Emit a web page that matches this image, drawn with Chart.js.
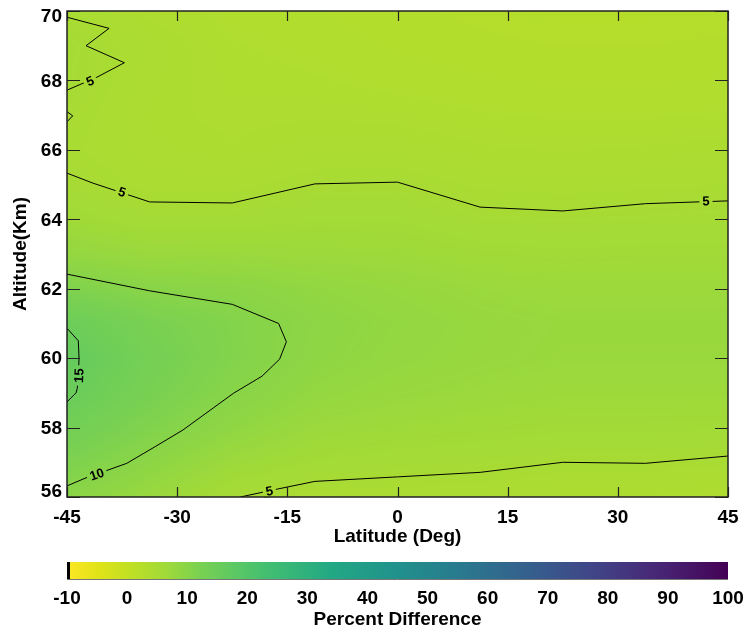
<!DOCTYPE html>
<html>
<head>
<meta charset="utf-8">
<script src="https://cdn.jsdelivr.net/npm/chart.js@4.4.1/dist/chart.umd.min.js"></script>
<style>
  html, body { margin: 0; padding: 0; background: #fff; }
</style>
</head>
<body>
<canvas id="chart" width="748" height="633"></canvas>
<script>
// grid of the field (lat columns x altitude rows)
const latitudes = [-45, -33.75, -22.5, -11.25, 0, 11.25, 22.5, 33.75, 45];
const altitudes = [56, 57, 58, 59, 60, 61, 62, 63, 64, 65, 66, 67, 68, 69, 70];
const pctDiff = [
  [9.6, 7.6, 5.2, 4.4, 4.4, 4.3, 4.0, 3.9, 3.6],    // 56
  [11.6, 9.3, 7.0, 5.9, 5.5, 5.3, 5.0, 5.0, 4.8],   // 57
  [13.6, 11.0, 8.8, 7.2, 6.7, 6.4, 6.1, 6.1, 6.0],  // 58
  [15.3, 12.3, 10.0, 8.3, 7.6, 7.2, 6.9, 6.9, 6.9], // 59
  [16.3, 12.9, 10.8, 9.0, 8.2, 7.7, 7.4, 7.4, 7.4], // 60
  [14.8, 12.2, 10.7, 9.2, 8.4, 7.8, 7.5, 7.5, 7.5], // 61
  [11.2, 9.9, 9.5, 8.5, 7.9, 7.3, 7.0, 7.0, 7.0],   // 62
  [8.3, 7.4, 7.3, 7.0, 6.8, 6.3, 6.1, 6.2, 6.2],    // 63
  [6.4, 5.5, 5.5, 5.9, 5.9, 5.3, 5.2, 5.3, 5.4],    // 64
  [5.2, 4.5, 4.5, 5.0, 5.05, 4.6, 4.5, 4.6, 4.7],   // 65
  [4.8, 4.2, 4.0, 4.3, 4.3, 4.0, 3.9, 4.0, 4.1],    // 66
  [5.0, 4.1, 3.8, 3.9, 3.8, 3.6, 3.5, 3.5, 3.6],    // 67
  [5.3, 4.2, 3.7, 3.6, 3.4, 3.2, 3.1, 3.1, 3.2],    // 68
  [5.4, 4.3, 3.6, 3.4, 3.1, 2.9, 2.8, 2.8, 2.9],    // 69
  [4.8, 3.8, 3.4, 3.2, 2.9, 2.7, 2.5, 2.5, 2.6]     // 70
];

// contour lines [lat, alt]
const contour5Top = [[-45, 65.33], [-41.45, 65.04], [-33.75, 64.5], [-22.5, 64.47], [-11.25, 65.02],
  [0, 65.07], [11.25, 64.35], [22.5, 64.24], [33.75, 64.45], [45, 64.53]];
const contour5Zig = [[-45, 69.82], [-39.27, 69.5], [-42.41, 69.0], [-37.19, 68.51], [-40.95, 68.09],
  [-43.36, 67.87], [-45, 67.72]];
const contour5Wedge = [[-45, 67.1], [-44.22, 66.98], [-45, 66.81]];
const contour5Bottom = [[-21.41, 56.0], [-16.32, 56.23], [-11.25, 56.45], [0, 56.58], [11.25, 56.71],
  [22.5, 57.0], [33.75, 56.97], [45, 57.18]];
const contour10 = [[-45, 62.42], [-33.75, 61.94], [-22.5, 61.55], [-16.19, 61.0], [-15.13, 60.47],
  [-16.05, 59.97], [-18.45, 59.48], [-22.32, 58.99], [-29.22, 57.93], [-33.0, 57.45],
  [-36.86, 56.97], [-42.55, 56.54], [-45, 56.32]];
const contour15 = [[-45, 60.86], [-43.46, 60.5], [-43.36, 60.0], [-43.45, 59.5], [-43.6, 59.13],
  [-43.77, 59.0], [-45, 58.74]];

const contourLabels = [
  { text: '5', lat: -37.5, alt: 64.79, line: contour5Top },
  { text: '5', lat: 42.0, alt: 64.53, line: contour5Top },
  { text: '5', lat: -41.86, alt: 67.99, line: contour5Zig },
  { text: '5', lat: -17.45, alt: 56.18, line: contour5Bottom },
  { text: '10', lat: -40.95, alt: 56.66, line: contour10 },
  { text: '15', lat: -43.4, alt: 59.5, line: contour15 }
];

const latTicks = [-45, -30, -15, 0, 15, 30, 45];
const altTicks = [56, 58, 60, 62, 64, 66, 68, 70];
const cbTicks = [-10, 0, 10, 20, 30, 40, 50, 60, 70, 80, 90, 100];

const viridisStops = [
  [0.0, '#440154'], [0.1, '#482475'], [0.2, '#414487'], [0.3, '#355f8d'], [0.4, '#2a788e'],
  [0.5, '#21918c'], [0.6, '#22a884'], [0.7, '#44bf70'], [0.75, '#5ec962'], [0.8, '#7ad151'],
  [0.85, '#a0da39'], [0.9, '#bddf26'], [0.95, '#dfe318'], [1.0, '#fde725']
];
const stopsRgb = viridisStops.map(s => [s[0], parseInt(s[1].slice(1, 3), 16), parseInt(s[1].slice(3, 5), 16), parseInt(s[1].slice(5, 7), 16)]);

function colorFor(v) {
  // reversed viridis: -10 yellow, 100 purple
  let t = 1 - (v - cbTicks[0]) / (cbTicks[cbTicks.length - 1] - cbTicks[0]);
  t = Math.max(0, Math.min(1, t));
  for (let k = 0; k < stopsRgb.length - 1; k++) {
    const a = stopsRgb[k], b = stopsRgb[k + 1];
    if (t <= b[0]) {
      const f = (t - a[0]) / (b[0] - a[0]);
      return [a[1] + (b[1] - a[1]) * f, a[2] + (b[2] - a[2]) * f, a[3] + (b[3] - a[3]) * f];
    }
  }
  const l = stopsRgb[stopsRgb.length - 1];
  return [l[1], l[2], l[3]];
}

function findCell(arr, v) {
  let i = 0;
  while (i < arr.length - 2 && v > arr[i + 1]) i++;
  const f = Math.max(0, Math.min(1, (v - arr[i]) / (arr[i + 1] - arr[i])));
  return [i, f];
}

function fieldAt(lat, alt) {
  const [i, fx] = findCell(latitudes, lat);
  const [j, fy] = findCell(altitudes, alt);
  const a = pctDiff[j][i], b = pctDiff[j][i + 1], c = pctDiff[j + 1][i], d = pctDiff[j + 1][i + 1];
  return (a * (1 - fx) + b * fx) * (1 - fy) + (c * (1 - fx) + d * fx) * fy;
}

const FONT = '"Liberation Sans", Arial, sans-serif';

const fieldPlugin = {
  id: 'fieldPlugin',
  beforeDatasetsDraw(chart) {
    const { ctx, chartArea: a, scales: { x, y } } = chart;
    const w = Math.round(a.right - a.left), h = Math.round(a.bottom - a.top);
    const img = ctx.createImageData(w, h);
    for (let j = 0; j < h; j++) {
      const alt = y.getValueForPixel(a.top + j + 0.5);
      for (let i = 0; i < w; i++) {
        const lat = x.getValueForPixel(a.left + i + 0.5);
        const c = colorFor(fieldAt(lat, alt));
        const k = (j * w + i) * 4;
        img.data[k] = c[0]; img.data[k + 1] = c[1]; img.data[k + 2] = c[2]; img.data[k + 3] = 255;
      }
    }
    ctx.putImageData(img, Math.round(a.left), Math.round(a.top));
  },
  afterDatasetsDraw(chart) {
    const { ctx, chartArea: a, scales: { x, y, cb } } = chart;
    ctx.save();

    // contour labels, masked with the local field colour
    ctx.font = 'bold 13px ' + FONT;
    ctx.textAlign = 'center';
    ctx.textBaseline = 'middle';
    contourLabels.forEach(l => {
      const px = x.getPixelForValue(l.lat), py = y.getPixelForValue(l.alt);
      let best = Infinity, ang = 0;
      for (let k = 0; k < l.line.length - 1; k++) {
        const x1 = x.getPixelForValue(l.line[k][0]), y1 = y.getPixelForValue(l.line[k][1]);
        const x2 = x.getPixelForValue(l.line[k + 1][0]), y2 = y.getPixelForValue(l.line[k + 1][1]);
        const dx = x2 - x1, dy = y2 - y1;
        const t = Math.max(0, Math.min(1, ((px - x1) * dx + (py - y1) * dy) / (dx * dx + dy * dy)));
        const d = Math.hypot(x1 + t * dx - px, y1 + t * dy - py);
        if (d < best) { best = d; ang = Math.atan2(dy, dx); }
      }
      if (ang >= Math.PI / 2 - 0.01) ang -= Math.PI;
      if (ang < -Math.PI / 2 - 0.01) ang += Math.PI;
      const c = colorFor(fieldAt(l.lat, l.alt));
      const tw = ctx.measureText(l.text).width;
      ctx.save();
      ctx.translate(px, py);
      ctx.rotate(ang);
      ctx.fillStyle = `rgb(${c[0]},${c[1]},${c[2]})`;
      ctx.fillRect(-tw / 2 - 3, -6, tw + 6, 12);
      ctx.fillStyle = '#000';
      ctx.fillText(l.text, 0, 1);
      ctx.restore();
    });

    // frame and inward ticks
    ctx.strokeStyle = '#222';
    ctx.lineWidth = 1.5;
    ctx.strokeRect(a.left, a.top, a.right - a.left, a.bottom - a.top);
    ctx.lineWidth = 1.2;
    ctx.beginPath();
    latTicks.forEach(v => {
      const px = Math.round(x.getPixelForValue(v)) + 0.5;
      ctx.moveTo(px, a.bottom); ctx.lineTo(px, a.bottom - 10);
      ctx.moveTo(px, a.top); ctx.lineTo(px, a.top + 10);
    });
    altTicks.forEach(v => {
      const py = Math.round(y.getPixelForValue(v)) + 0.5;
      ctx.moveTo(a.left, py); ctx.lineTo(a.left + 13, py);
      ctx.moveTo(a.right, py); ctx.lineTo(a.right - 13, py);
    });
    ctx.stroke();

    // tick labels
    ctx.fillStyle = '#000';
    ctx.font = 'bold 19px ' + FONT;
    ctx.textAlign = 'center';
    ctx.textBaseline = 'alphabetic';
    latTicks.forEach(v => ctx.fillText(String(v), x.getPixelForValue(v), 523));
    ctx.textAlign = 'right';
    ctx.textBaseline = 'middle';
    altTicks.forEach(v => {
      const py = Math.max(a.top + 5, Math.min(a.bottom - 6, y.getPixelForValue(v)));
      ctx.fillText(String(v), a.left - 5, py + 1);
    });

    // axis titles
    ctx.font = 'bold 19px ' + FONT;
    ctx.textAlign = 'center';
    ctx.textBaseline = 'alphabetic';
    ctx.fillText('Latitude (Deg)', (a.left + a.right) / 2, 542);
    ctx.save();
    ctx.translate(26, (a.top + a.bottom) / 2);
    ctx.rotate(-Math.PI / 2);
    ctx.fillText('Altitude(Km)', 0, 0);
    ctx.restore();

    // colour bar
    const x0 = cb.getPixelForValue(cbTicks[0]), x1 = cb.getPixelForValue(cbTicks[cbTicks.length - 1]);
    const grad = ctx.createLinearGradient(x0, 0, x1, 0);
    viridisStops.forEach(s => grad.addColorStop(1 - s[0], s[1]));
    ctx.fillStyle = grad;
    ctx.fillRect(x0, 562, x1 - x0, 17);
    ctx.fillStyle = '#000';
    ctx.fillRect(x0, 562, 3, 17);
    ctx.strokeStyle = 'rgba(60,60,60,0.7)';
    ctx.lineWidth = 1;
    ctx.beginPath();
    ctx.moveTo(x0, 579.5); ctx.lineTo(x1, 579.5);
    ctx.stroke();

    ctx.font = 'bold 19px ' + FONT;
    cbTicks.forEach(v => ctx.fillText(String(v), cb.getPixelForValue(v), 604));
    ctx.fillText('Percent Difference', (x0 + x1) / 2, 625);
    ctx.restore();
  }
};

const lineSet = pts => ({
  data: pts.map(p => ({ x: p[0], y: p[1] })),
  showLine: true,
  borderColor: '#000',
  borderWidth: 1,
  pointRadius: 0,
  fill: false,
  tension: 0
});

new Chart(document.getElementById('chart'), {
  type: 'scatter',
  data: {
    datasets: [contour5Top, contour5Zig, contour5Wedge, contour5Bottom, contour10, contour15].map(lineSet)
  },
  options: {
    responsive: false,
    animation: false,
    devicePixelRatio: 1,
    layout: { padding: { left: 67, top: 11, right: 20, bottom: 136 } },
    plugins: { legend: { display: false }, tooltip: { enabled: false } },
    scales: {
      x: { type: 'linear', min: -45, max: 45, display: false },
      y: { type: 'linear', min: 56, max: 70, display: false },
      cb: { type: 'linear', axis: 'x', min: -10, max: 100, display: false }
    }
  },
  plugins: [fieldPlugin]
});
</script>
</body>
</html>
